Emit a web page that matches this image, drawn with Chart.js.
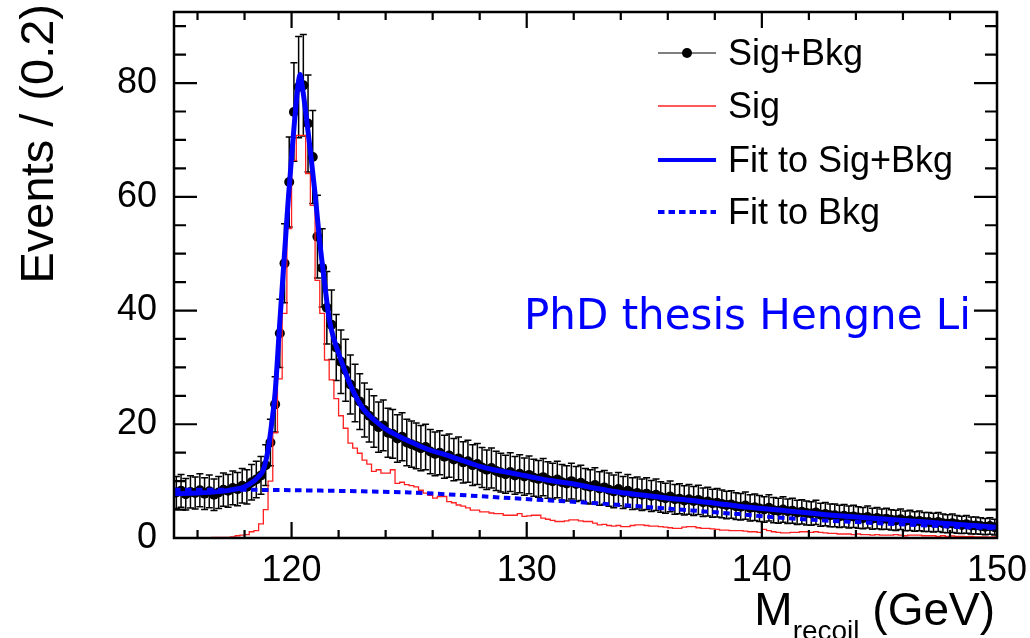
<!DOCTYPE html>
<html>
<head>
<meta charset="utf-8">
<script src="https://cdn.jsdelivr.net/npm/chart.js@4.4.0/dist/chart.umd.min.js"></script>
<style>
  html, body { margin: 0; padding: 0; background: #fff; }
  #wrap { width: 1030px; height: 638px; position: relative; }
</style>
</head>
<body>
<div id="wrap"><canvas id="chart" width="1030" height="638"></canvas></div>
<script>
// Binning of the recoil mass histogram
const binLow = 115
const binHigh = 150
const binWidth = 0.2

// Sig+Bkg events per 0.2 GeV bin (175 bins, 115 -> 150 GeV)
const sigBkg = [
  8.0, 8.3, 7.7, 8.1, 7.9, 8.4, 7.8, 8.2, 7.6, 8.0,
  8.5, 8.3, 8.8, 8.6, 9.2, 9.0, 9.8, 10.3, 11.0, 12.8,
  16.8, 23.5, 36.0, 48.3, 62.6, 74.9, 79.3, 79.6, 72.9, 67.0,
  53.0, 47.5, 40.5, 37.5, 33.5, 31.0, 29.5, 27.0, 25.5, 24.0,
  22.5, 21.5, 20.5, 19.5, 19.8, 18.5, 18.3, 17.5, 17.8, 16.8,
  16.5, 16.2, 15.8, 16.0, 15.2, 14.8, 15.0, 14.3, 14.5, 13.8,
  14.0, 13.3, 13.5, 12.8, 13.0, 12.4, 12.0, 12.3, 11.8, 11.5,
  11.2, 11.6, 11.0, 11.3, 10.8, 11.1, 10.6, 10.4, 10.7, 10.2,
  10.0, 10.3, 9.8, 9.6, 10.0, 9.5, 9.7, 9.2, 9.0, 9.3,
  8.7, 8.9, 8.5, 8.2, 8.6, 8.0, 8.3, 7.8, 7.9, 7.6,
  7.8, 7.4, 7.6, 7.2, 7.0, 7.3, 6.8, 6.9, 6.6, 6.8,
  6.5, 6.7, 6.3, 6.4, 6.1, 6.2, 6.0, 5.8, 5.9, 5.6,
  5.5, 5.7, 5.3, 5.4, 5.2, 5.0, 5.3, 4.9, 4.8, 5.0,
  4.7, 4.8, 4.5, 4.6, 4.4, 4.3, 4.5, 4.1, 4.2, 4.0,
  4.0, 3.8, 3.9, 3.7, 3.8, 3.6, 3.5, 3.7, 3.4, 3.5,
  3.3, 3.4, 3.2, 3.1, 3.3, 3.0, 3.1, 2.9, 3.0, 2.8,
  2.8, 2.7, 2.8, 2.6, 2.5, 2.6, 2.4, 2.3, 2.4, 2.2,
  2.2, 2.1, 2.0, 2.1, 1.9
]

// Signal only histogram, same binning
const sig = [
  0, 0, 0, 0, 0, 0, 0, 0, 0.1, 0.1,
  0.1, 0.1, 0.2, 0.4, 0.5, 0.6, 1.1, 1.3, 2.5, 5.0,
  10.0, 18.5, 28.0, 39.5, 54.4, 66.4, 70.8, 70.8, 64.1, 58.5,
  45.3, 39.5, 31.3, 27.8, 24.5, 21.5, 19.3, 16.7, 15.8, 14.9,
  13.7, 13.0, 11.7, 12.0, 11.4, 11.4, 12.0, 9.6, 9.8, 9.4,
  9.2, 9.0, 8.4, 7.9, 7.5, 7.0, 7.3, 7.3, 6.4, 6.2,
  5.8, 5.6, 5.3, 4.9, 4.9, 4.6, 4.6, 4.4, 4.3, 4.3,
  4.0, 4.0, 4.0, 4.3, 3.8, 3.9, 4.0, 4.0, 3.5, 3.3,
  3.1, 2.9, 2.9, 3.0, 3.2, 3.2, 3.0, 2.9, 2.9, 2.6,
  2.3, 2.4, 2.2, 2.1, 2.2, 2.0, 2.0, 2.2, 2.3, 2.3,
  2.2, 2.1, 2.1, 2.0, 1.9, 1.8, 1.7, 1.7, 1.9, 2.0,
  2.0, 1.8, 1.7, 1.7, 1.6, 1.5, 1.4, 1.4, 1.3, 1.3,
  1.3, 1.2, 1.1, 1.1, 1.0, 1.5, 1.3, 1.1, 1.0, 0.9,
  0.9, 1.0, 1.0, 1.1, 1.1, 1.0, 1.1, 1.0, 0.9, 0.8,
  0.8, 0.7, 0.7, 0.7, 0.6, 0.7, 0.6, 0.6, 0.5, 0.6,
  0.5, 0.5, 0.5, 0.6, 0.5, 0.4, 0.5, 0.5, 0.5, 0.4,
  0.4, 0.4, 0.3, 0.4, 0.3, 0.35, 0.3, 0.3, 0.25, 0.3,
  0.2, 0.2, 0.2, 0.15, 0.2
]

// Fit to Sig+Bkg
const fitX = [115.0, 116.0, 117.0, 117.5, 118.0, 118.3, 118.6, 118.8, 119.0, 119.15,
  119.3, 119.5, 119.7, 119.85, 120.0, 120.15, 120.3, 120.36, 120.45, 120.6,
  120.8, 121.0, 121.2, 121.4, 121.6, 121.8, 122.0, 122.3, 122.6, 123.0,
  123.5, 124.0, 124.6, 125.0, 125.5, 126.0, 126.5, 127.0, 127.5, 128.0,
  128.5, 129.0, 129.5, 130.0, 131.0, 132.0, 133.0, 134.0, 135.0, 136.0,
  137.0, 138.0, 139.0, 140.0, 141.0, 142.0, 143.0, 144.0, 145.0, 146.0,
  147.0, 148.0, 149.0, 150.0]
const fitY = [7.8, 7.9, 8.2, 8.5, 9.0, 9.7, 10.8, 12.0, 15.5, 20.0,
  25.5, 38.0, 50.0, 59.0, 67.0, 74.5, 80.5, 81.5, 79.5, 75.0,
  68.0, 60.5, 52.0, 45.0, 38.5, 35.0, 32.5, 29.0, 26.0, 23.0,
  20.8, 19.2, 17.8, 17.0, 16.1, 15.3, 14.7, 14.0, 13.3, 12.6,
  12.1, 11.7, 11.3, 10.9, 10.1, 9.5, 8.7, 8.0, 7.5, 7.0,
  6.6, 6.1, 5.6, 5.2, 4.8, 4.4, 4.0, 3.7, 3.4, 3.1,
  2.8, 2.5, 2.2, 1.9]

// Fit to Bkg only
const bkgX = [115, 117, 119, 121, 123, 125, 127, 129, 131, 133, 135, 137, 139, 141, 143, 145, 147, 149, 150]
const bkgY = [8.5, 8.5, 8.45, 8.35, 8.2, 8.0, 7.6, 7.1, 6.6, 6.1, 5.5, 4.85, 4.2, 3.5, 3.0, 2.6, 2.2, 1.85, 1.7]

// Axis ticks
const xTickLabels = [120, 130, 140, 150]
const yTickLabels = [0, 20, 40, 60, 80]
const yMax = 92.5

const FONT = "'Liberation Sans', Arial, Helvetica, sans-serif"

const binCenters = sigBkg.map((_, i) => +(binLow + binWidth * (i + 0.5)).toFixed(2))
// histogram drawn from the low edge of each bin, plus the closing edge
const sigSteps = sig.map((v, i) => ({x: +(binLow + binWidth * i).toFixed(2), y: v}))
sigSteps.push({x: binHigh, y: sig[sig.length - 1]})

// Poisson error bars on the data points (plus the bin width), with small serifs
const errorBars = {
  id: 'errorBars',
  beforeDatasetsDraw(chart) {
    const {ctx, chartArea: a, scales: {x, y}} = chart
    const meta = chart.getDatasetMeta(3)
    const halfBin = (x.getPixelForValue(binLow + binWidth) - x.getPixelForValue(binLow)) / 2
    ctx.save()
    ctx.beginPath()
    ctx.rect(a.left, a.top, a.right - a.left, a.bottom - a.top)
    ctx.clip()
    ctx.strokeStyle = '#000'
    ctx.lineWidth = 1.5
    meta.data.forEach((pt, i) => {
      const n = sigBkg[i]
      const err = Math.sqrt(n)
      const yHi = y.getPixelForValue(n + err)
      const yLo = y.getPixelForValue(n - err)
      ctx.beginPath()
      ctx.moveTo(pt.x, yLo); ctx.lineTo(pt.x, yHi)
      ctx.moveTo(pt.x - 3.5, yLo); ctx.lineTo(pt.x + 3.5, yLo)
      ctx.moveTo(pt.x - 3.5, yHi); ctx.lineTo(pt.x + 3.5, yHi)
      ctx.moveTo(pt.x - halfBin, pt.y); ctx.lineTo(pt.x + halfBin, pt.y)
      ctx.stroke()
    })
    ctx.restore()
  }
}

// ROOT style frame, inward ticks, titles, legend and the watermark text
const rootDecor = {
  id: 'rootDecor',
  afterDraw(chart) {
    const {ctx, chartArea: a, scales: {x, y}} = chart
    ctx.save()
    ctx.strokeStyle = '#000'
    ctx.lineWidth = 2.5
    ctx.strokeRect(a.left, a.top, a.right - a.left, a.bottom - a.top)

    ctx.lineWidth = 2.2
    ctx.beginPath()
    for (let v = binLow + 1; v < binHigh + 0.01; v += 2) {
      const px = x.getPixelForValue(v)
      const len = v % 10 === 0 ? 16 : 8
      ctx.moveTo(px, a.bottom); ctx.lineTo(px, a.bottom - len)
      ctx.moveTo(px, a.top); ctx.lineTo(px, a.top + len)
    }
    for (let v = 5; v < yMax; v += 5) {
      const py = y.getPixelForValue(v)
      const len = v % 20 === 0 ? 23 : 12
      ctx.moveTo(a.left, py); ctx.lineTo(a.left + len, py)
      ctx.moveTo(a.right, py); ctx.lineTo(a.right - len, py)
    }
    ctx.stroke()

    // y title, aligned to the top like ROOT does
    ctx.fillStyle = '#000'
    ctx.save()
    ctx.translate(53, 4)
    ctx.rotate(-Math.PI / 2)
    ctx.font = `47px ${FONT}`
    ctx.textAlign = 'right'
    ctx.textBaseline = 'alphabetic'
    ctx.fillText('Events / (0.2)', 0, 0)
    ctx.restore()

    // x title with subscript
    const big = `46px ${FONT}`, small = `28px ${FONT}`
    ctx.font = big
    const wM = ctx.measureText('M').width
    const wTail = ctx.measureText(' (GeV)').width
    ctx.font = small
    const wSub = ctx.measureText('recoil').width
    let tx = 995 - wM - wSub - wTail
    ctx.textAlign = 'left'
    ctx.font = big
    ctx.fillText('M', tx, 625)
    ctx.font = small
    ctx.fillText('recoil', tx + wM, 640)
    ctx.font = big
    ctx.fillText(' (GeV)', tx + wM + wSub, 625)

    // legend
    const rows = [
      {label: 'Sig+Bkg', color: '#000', width: 1.2, dash: [], dot: true, cy: 53, base: 65},
      {label: 'Sig', color: '#ff2020', width: 1.3, dash: [], dot: false, cy: 106, base: 118},
      {label: 'Fit to Sig+Bkg', color: '#0000ff', width: 4, dash: [], dot: false, cy: 160, base: 172},
      {label: 'Fit to Bkg', color: '#0000ff', width: 4, dash: [6.5, 4], dot: false, cy: 212, base: 224}
    ]
    ctx.font = `36px ${FONT}`
    rows.forEach(r => {
      ctx.strokeStyle = r.color
      ctx.lineWidth = r.width
      ctx.setLineDash(r.dash)
      ctx.beginPath()
      ctx.moveTo(658, r.cy); ctx.lineTo(716, r.cy)
      ctx.stroke()
      ctx.setLineDash([])
      if (r.dot) {
        ctx.fillStyle = '#000'
        ctx.beginPath()
        ctx.arc(687, r.cy, 5, 0, Math.PI * 2)
        ctx.fill()
      }
      ctx.fillStyle = '#000'
      ctx.fillText(r.label, 728, r.base)
    })

    ctx.fillStyle = '#0000ff'
    ctx.font = "42px 'DejaVu Sans', sans-serif"
    ctx.fillText('PhD thesis Hengne Li', 524, 329)
    ctx.restore()
  }
}

const tickFont = {family: FONT, size: 36}

new Chart(document.getElementById('chart'), {
  type: 'line',
  data: {
    datasets: [
      {
        label: 'Fit to Sig+Bkg',
        data: fitX.map((v, i) => ({x: v, y: fitY[i]})),
        borderColor: '#0000ff',
        borderWidth: 5,
        pointRadius: 0,
        cubicInterpolationMode: 'monotone',
        order: 0
      },
      {
        label: 'Fit to Bkg',
        data: bkgX.map((v, i) => ({x: v, y: bkgY[i]})),
        borderColor: '#0000ff',
        borderWidth: 4,
        borderDash: [6.5, 4.5],
        pointRadius: 0,
        cubicInterpolationMode: 'monotone',
        order: 1
      },
      {
        label: 'Sig',
        data: sigSteps,
        borderColor: '#ff2020',
        borderWidth: 1.3,
        pointRadius: 0,
        stepped: true,
        order: 2
      },
      {
        label: 'Sig+Bkg',
        type: 'scatter',
        data: binCenters.map((v, i) => ({x: v, y: sigBkg[i]})),
        backgroundColor: '#000',
        borderWidth: 0,
        pointRadius: 5,
        order: 3
      }
    ]
  },
  options: {
    responsive: false,
    animation: false,
    events: [],
    layout: {padding: {top: 12, right: 33, left: 0, bottom: 0}},
    plugins: {legend: {display: false}, tooltip: {enabled: false}},
    scales: {
      x: {
        type: 'linear',
        min: binLow,
        max: binHigh,
        grid: {display: false, drawTicks: false},
        border: {display: false},
        ticks: {font: tickFont, color: '#000', padding: 11, maxRotation: 0, autoSkip: false},
        afterBuildTicks: s => { s.ticks = xTickLabels.map(v => ({value: v})) },
        afterFit: s => { s.height = 100; s.paddingLeft = 0; s.paddingRight = 0 }
      },
      y: {
        type: 'linear',
        min: 0,
        max: yMax,
        grid: {display: false, drawTicks: false},
        border: {display: false},
        ticks: {font: tickFont, color: '#000', padding: 17},
        afterBuildTicks: s => { s.ticks = yTickLabels.map(v => ({value: v})) },
        afterFit: s => { s.width = 174; s.paddingTop = 0; s.paddingBottom = 0 }
      }
    }
  },
  plugins: [errorBars, rootDecor]
})
</script>
</body>
</html>
